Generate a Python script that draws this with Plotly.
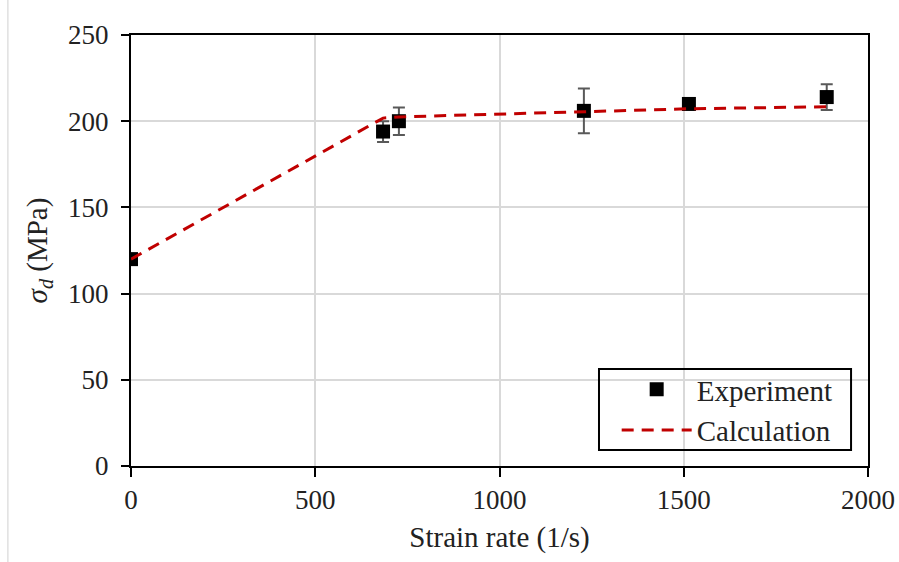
import plotly.graph_objects as go

# Experimental data
exp_rate = [0, 684, 727, 1229, 1514, 1888]
exp_stress = [120, 194, 200, 206, 210, 214]
exp_err = [3, 6, 8, 13, 2, 7.5]

# Calculation
calc_rate = [0, 684, 727, 1229, 1514, 1888]
calc_stress = [120, 201.8, 202.5, 205.6, 207.2, 208.4]

x_ticks = [0, 500, 1000, 1500, 2000]
y_ticks = [0, 50, 100, 150, 200, 250]

FONT = "Liberation Serif"
TXT = "#222"

fig = go.Figure()
fig.add_trace(go.Scatter(
    x=exp_rate, y=exp_stress, mode="markers", name="Experiment",
    marker=dict(symbol="square", size=14, color="black"),
    error_y=dict(type="data", array=exp_err, visible=True, color="#595959",
                 thickness=2, width=6),
))
fig.add_trace(go.Scatter(
    x=calc_rate, y=calc_stress, mode="lines", name="Calculation",
    line=dict(color="#C00000", width=3, dash="12px,8px"),
))

axis_common = dict(
    showline=True, linecolor="black", linewidth=2, mirror=True,
    showgrid=True, gridcolor="#D9D9D9", gridwidth=2,
    ticks="outside", tickcolor="black", tickwidth=2,
    zeroline=False, automargin=False,
    tickfont=dict(family=FONT, size=27, color=TXT),
)

fig.update_layout(
    width=899, height=562,
    margin=dict(l=131, r=31, t=35, b=96),
    paper_bgcolor="white", plot_bgcolor="white",
    font=dict(family=FONT, size=27, color=TXT),
    xaxis=dict(range=[0, 2000], tickvals=x_ticks, ticklen=9,
               title=dict(text="Strain rate (1/s)", font=dict(family=FONT, size=29, color=TXT), standoff=12),
               **axis_common),
    yaxis=dict(range=[0, 250], tickvals=y_ticks, ticklen=8, ticklabelstandoff=7,
               title=dict(text="<i>σ<sub>d</sub></i> (MPa)", font=dict(family=FONT, size=29, color=TXT), standoff=12),
               **axis_common),
    legend=dict(x=0.659, y=0.237, xanchor="left", yanchor="top",
                bgcolor="rgba(0,0,0,0)", borderwidth=0,
                font=dict(family=FONT, size=29, color=TXT),
                tracegroupgap=0, itemwidth=70),
    showlegend=True,
    shapes=[
        dict(type="line", xref="paper", yref="paper",
             x0=-0.167, x1=-0.167, y0=-0.3, y1=1.2,
             line=dict(color="#D0D0D0", width=1)),
        dict(type="rect", xref="paper", yref="paper",
             x0=0.635, x1=0.977, y0=0.037, y1=0.225,
             fillcolor="white", layer="above",
             line=dict(color="black", width=2)),
    ],
)
# legend box drawn beneath legend text: use layer below traces? keep fill transparent
fig.layout.shapes[1].fillcolor = "rgba(0,0,0,0)"

fig.write_html("out.html")
